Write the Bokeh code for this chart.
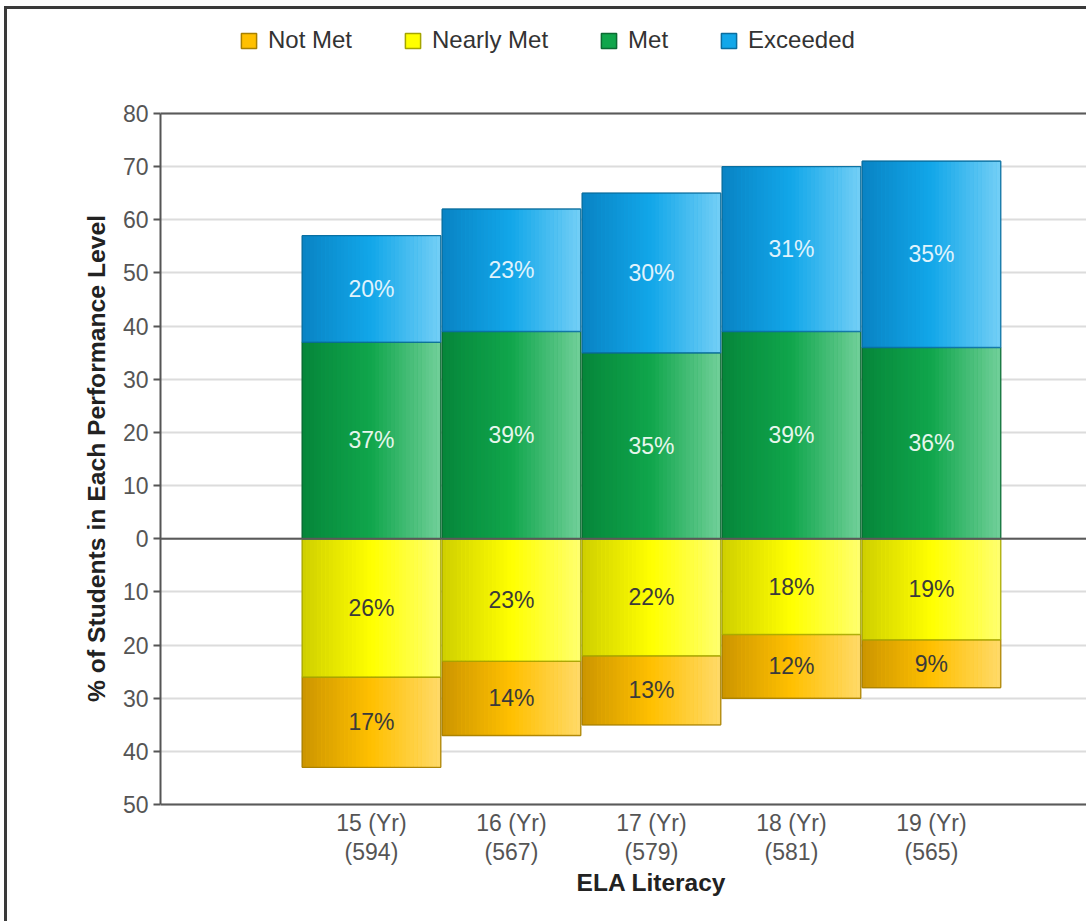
import numpy as np
from bokeh.plotting import figure
from bokeh.models import (ColumnDataSource, FixedTicker, Range1d, Span,
                          LabelSet, Legend, LegendItem)
from bokeh.core.properties import value
from bokeh.embed import file_html
from bokeh.resources import INLINE

# ---- data -------------------------------------------------------------
years = ["15 (Yr)", "16 (Yr)", "17 (Yr)", "18 (Yr)", "19 (Yr)"]
counts = [594, 567, 579, 581, 565]
not_met = [17, 14, 13, 12, 9]
nearly_met = [26, 23, 22, 18, 19]
met = [37, 39, 35, 39, 36]
exceeded = [20, 23, 30, 31, 35]
y_ticks = list(range(-50, 81, 10))
x_title = "ELA Literacy"
y_title = "% of Students in Each Performance Level"

FONT = "Liberation Sans"
W, H = 1082, 915
BAR_W = 0.9875
N_STRIPS = 36

idx = np.arange(len(years), dtype=float)
nm = np.array(not_met, dtype=float)
nr = np.array(nearly_met, dtype=float)
mt = np.array(met, dtype=float)
ex = np.array(exceeded, dtype=float)

# (name, bottom, top, values, gradient stops, edge colour, label colour)
series = [
    ("Not Met", -(nr + nm), -nr, not_met,
     ["#cc9500", "#ffc000", "#ffda6a"], "#a88000", "#3a3a3a"),
    ("Nearly Met", -nr, np.zeros_like(nr), nearly_met,
     ["#cfcf00", "#ffff00", "#ffff70"], "#a5a500", "#3a3a3a"),
    ("Met", np.zeros_like(mt), mt, met,
     ["#06863a", "#10a64c", "#72d09a"], "#0b6a32", "#e6f6ec"),
    ("Exceeded", mt, mt + ex, exceeded,
     ["#0983c4", "#12a7e9", "#74cff6"], "#0a6d9e", "#e0f3fc"),
]


def hex_rgb(h):
    h = h.lstrip("#")
    return np.array([int(h[i:i + 2], 16) for i in (0, 2, 4)], dtype=float)


def ramp(stops, t):
    a, b, c = (hex_rgb(s) for s in stops)
    if t < 0.5:
        col = a + (b - a) * (t / 0.5)
    else:
        col = b + (c - b) * ((t - 0.5) / 0.5)
    return "#%02x%02x%02x" % tuple(int(round(v)) for v in col)


# The frame covers nearly the full canvas height; the value axis is bounded
# to -50..80 and the category captions sit inside the frame below -50.
PX_PER_UNIT = 691 / 130
FRAME_BOTTOM = 898          # canvas px of the frame's lower edge
Y_TOP = 80 + 104 / PX_PER_UNIT
Y_BOT = -50 - (FRAME_BOTTOM - 795) / PX_PER_UNIT

p = figure(width=W, height=H, output_backend="svg", toolbar_location=None,
           x_range=Range1d(-1.507, 5.129), y_range=Range1d(Y_BOT, Y_TOP),
           min_border=0, min_border_left=153, min_border_bottom=H - FRAME_BOTTOM,
           background_fill_color="white", border_fill_color="white")
p.outline_line_color = None
p.xaxis.visible = False
p.styles = {"border-left": "3px solid #3a3a3a", "border-top": "3px solid #3a3a3a",
            "margin-left": "4px", "margin-top": "6px"}

# grid
p.xgrid.visible = False
p.ygrid.ticker = FixedTicker(ticks=y_ticks)
p.ygrid.grid_line_color = "#dcdcdc"
p.ygrid.grid_line_width = 2

legend_items = []
strip_w = BAR_W / N_STRIPS
for name, bottom, top, vals, stops, edge, lab_col in series:
    # solid base segment (also used as the legend swatch)
    base = p.vbar(x=idx, width=BAR_W, bottom=bottom, top=top,
                  fill_color=stops[1], line_color=edge, line_width=1.5)
    legend_items.append(LegendItem(label=name, renderers=[base]))

    # horizontal shading drawn as thin vertical strips
    xs, bs, ts, cs = [], [], [], []
    for k in range(N_STRIPS):
        c = ramp(stops, (k + 0.5) / N_STRIPS)
        for i in range(len(idx)):
            xs.append(idx[i] - BAR_W / 2 + (k + 0.5) * strip_w)
            bs.append(bottom[i])
            ts.append(top[i])
            cs.append(c)
    src = ColumnDataSource(dict(x=xs, bottom=bs, top=ts, color=cs))
    p.vbar(x="x", width=strip_w * 1.08, bottom="bottom", top="top",
           fill_color="color", line_color=None, source=src)

    # thin edge on top
    p.vbar(x=idx, width=BAR_W, bottom=bottom, top=top, fill_color=None,
           line_color=edge, line_alpha=0.75, line_width=1.2)

    lsrc = ColumnDataSource(dict(x=idx, y=(bottom + top) / 2,
                                 text=[f"{v}%" for v in vals]))
    p.add_layout(LabelSet(x="x", y="y", text="text", source=lsrc,
                          text_align="center", text_baseline="middle",
                          text_font=value(FONT), text_font_size="23px",
                          text_color=lab_col))

# dark rules at the top, zero and bottom of the value scale
for yv in (80, 0, -50):
    p.add_layout(Span(location=yv, dimension="width", line_color="#5a5a5a",
                      line_width=2))

# value axis
yax = p.yaxis[0]
yax.bounds = (-50, 80)
yax.ticker = FixedTicker(ticks=y_ticks)
yax.major_label_overrides = {t: str(abs(t)) for t in y_ticks}
yax.major_label_text_font = FONT
yax.major_label_text_font_size = "23px"
yax.major_label_text_color = "#555555"
yax.major_label_standoff = 5
yax.axis_line_color = "#555555"
yax.axis_line_width = 2
yax.major_tick_line_color = "#555555"
yax.major_tick_line_width = 2
yax.major_tick_out = 7
yax.major_tick_in = 0
yax.minor_tick_line_color = None
yax.axis_label = y_title
yax.axis_label_text_font = FONT
yax.axis_label_text_font_size = "24.7px"
yax.axis_label_text_font_style = "bold"
yax.axis_label_text_color = "#222222"
yax.axis_label_standoff = 10

# category captions and axis title beneath the bars
cap = ColumnDataSource(dict(x=idx, year=years,
                            n=[f"({c})" for c in counts],
                            y1=[-53.4] * len(idx), y2=[-59.0] * len(idx)))
p.text(x="x", y="y1", text="year", source=cap, text_align="center",
       text_baseline="middle", text_font=value(FONT), text_font_size="23px",
       text_color="#555555")
p.text(x="x", y="y2", text="n", source=cap, text_align="center",
       text_baseline="middle", text_font=value(FONT), text_font_size="23px",
       text_color="#555555")
p.text(x=[float(np.mean(idx))], y=[-64.6], text=[x_title], text_align="center",
       text_baseline="middle", text_font=value(FONT), text_font_size="24.5px",
       text_font_style="bold", text_color="#222222")

legend = Legend(items=legend_items, orientation="horizontal",
                location=(79, FRAME_BOTTOM - 45),
                glyph_width=19, glyph_height=19, label_standoff=10, spacing=51,
                padding=0, margin=0, border_line_color=None,
                background_fill_alpha=0, label_text_font=FONT,
                label_text_font_size="24px", label_text_color="#333333")
p.add_layout(legend, "center")

open("out.html", "w").write(file_html(p, INLINE))
